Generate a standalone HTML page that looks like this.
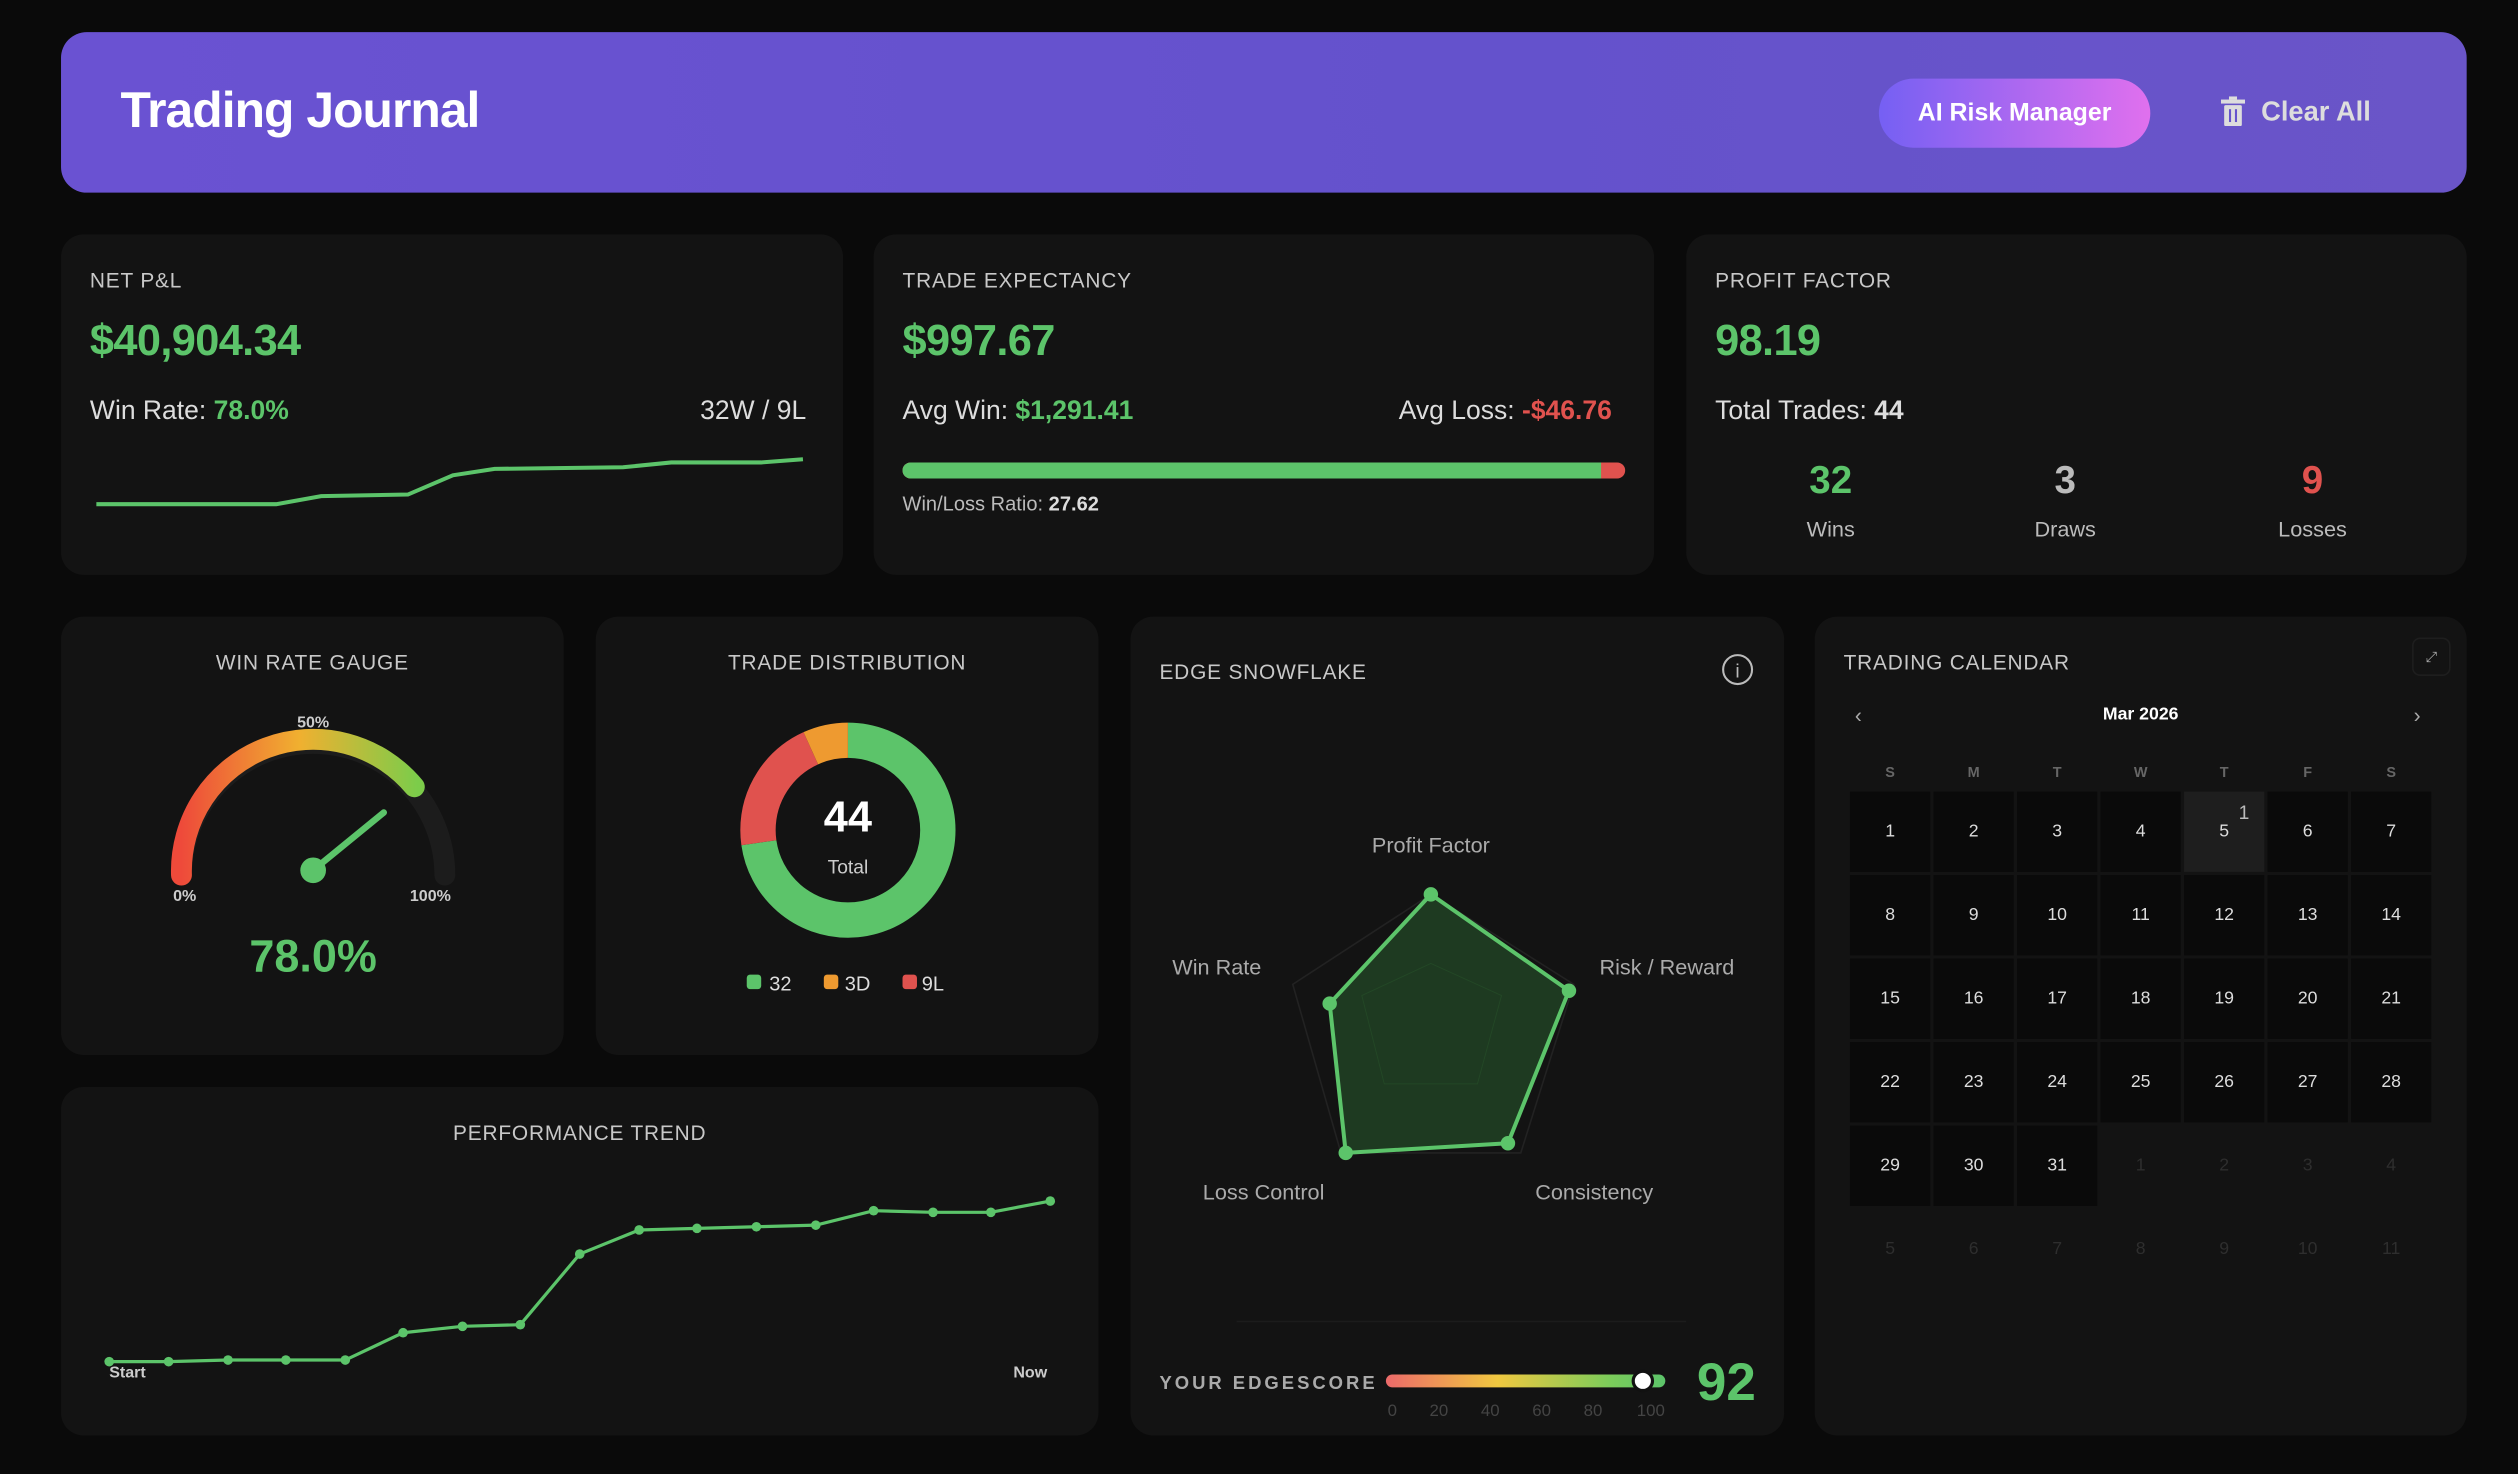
<!DOCTYPE html>
<html><head><meta charset="utf-8"><style>
*{margin:0;padding:0;box-sizing:border-box}
html,body{width:2518px;height:1474px;background:#0a0a0a;overflow:hidden}
#w{position:absolute;left:0;top:0;width:1568px;height:918px;transform:scale(1.6059,1.6057);transform-origin:0 0;font-family:"Liberation Sans",sans-serif;color:#ddd}
.a{position:absolute}
.card{position:absolute;background:#131313;border-radius:14px}
.lab{position:absolute;font-size:13px;letter-spacing:.5px;color:#c8c8c8}
.g{color:#5cc46a}.r{color:#e0524e}
</style></head><body><div id="w">
<div class="a" style="left:38px;top:20px;width:1498px;height:100px;border-radius:16px;background:linear-gradient(90deg,#6a52d2,#6452cc 60%,#6a55c8)"></div>
<div class="a" style="left:75px;top:51px;font-size:31px;font-weight:bold;color:#fff;letter-spacing:-0.6px">Trading Journal</div>
<div class="a" style="left:1170px;top:49px;width:169px;height:43px;border-radius:22px;background:linear-gradient(90deg,#7560f3,#e070ee);color:#fff;font-weight:bold;font-size:15.5px;line-height:43px;text-align:center">AI Risk Manager</div>
<div class="a" style="left:1383px;top:60px;width:14px;height:18px;color:#ddd"><svg width="15" height="19"><rect x="0" y="2" width="15" height="2.5" fill="#ddd"/><rect x="5" y="0" width="5" height="2" fill="#ddd"/><rect x="2" y="5.5" width="11" height="13" rx="1" fill="#ddd"/><rect x="5" y="8" width="1.3" height="8" fill="#6553cd"/><rect x="8.7" y="8" width="1.3" height="8" fill="#6553cd"/></svg></div>
<div class="a" style="left:1408px;top:60px;font-size:17px;font-weight:bold;color:#ddd">Clear All</div>

<div class="card" style="left:38px;top:146px;width:487px;height:212px"></div>
<div class="card" style="left:544px;top:146px;width:486px;height:212px"></div>
<div class="card" style="left:1050px;top:146px;width:486px;height:212px"></div>
<div class="lab" style="left:56px;top:167px">NET P&amp;L</div>
<div class="a g" style="left:56px;top:197px;font-size:27px;font-weight:bold;letter-spacing:-0.4px">$40,904.34</div>
<div class="a" style="left:56px;top:247px;font-size:16.5px">Win Rate: <b class="g">78.0%</b></div>
<div class="a" style="left:436px;top:247px;font-size:16.5px">32W / 9L</div>
<svg class="a" style="left:0;top:0" width="1568" height="918"><polyline fill="none" stroke="#5cc46a" stroke-width="2.5" points="60,314 172,314 200,309 254,308 282,296 308,292 388,291 418,288 474,288 500,286"/></svg>
<div class="lab" style="left:562px;top:167px">TRADE EXPECTANCY</div>
<div class="a g" style="left:562px;top:197px;font-size:27px;font-weight:bold;letter-spacing:-0.4px">$997.67</div>
<div class="a" style="left:562px;top:247px;font-size:16.5px">Avg Win: <b class="g">$1,291.41</b></div>
<div class="a" style="left:871px;top:247px;font-size:16.5px">Avg Loss: <b class="r">-$46.76</b></div>
<div class="a" style="left:562px;top:288px;width:450px;height:10px;border-radius:5px;background:#e0524e"><div style="width:435px;height:10px;border-radius:5px 0 0 5px;background:#5cc46a"></div></div>
<div class="a" style="left:562px;top:307px;font-size:12.5px;color:#bbb">Win/Loss Ratio: <b style="color:#ddd">27.62</b></div>
<div class="lab" style="left:1068px;top:167px">PROFIT FACTOR</div>
<div class="a g" style="left:1068px;top:197px;font-size:27px;font-weight:bold;letter-spacing:-0.4px">98.19</div>
<div class="a" style="left:1068px;top:247px;font-size:16.5px">Total Trades: <b>44</b></div>
<div class="a g" style="left:1100px;top:286px;width:80px;text-align:center;font-size:24px;font-weight:bold">32</div>
<div class="a" style="left:1100px;top:322px;width:80px;text-align:center;font-size:13.5px;color:#bbb">Wins</div>
<div class="a" style="left:1246px;top:286px;width:80px;text-align:center;font-size:24px;font-weight:bold;color:#bbb">3</div>
<div class="a" style="left:1246px;top:322px;width:80px;text-align:center;font-size:13.5px;color:#bbb">Draws</div>
<div class="a r" style="left:1400px;top:286px;width:80px;text-align:center;font-size:24px;font-weight:bold">9</div>
<div class="a" style="left:1400px;top:322px;width:80px;text-align:center;font-size:13.5px;color:#bbb">Losses</div>

<div class="card" style="left:38px;top:384px;width:313px;height:273px"></div>
<div class="card" style="left:371px;top:384px;width:313px;height:273px"></div>
<div class="card" style="left:704px;top:384px;width:407px;height:510px"></div>
<div class="card" style="left:1130px;top:384px;width:406px;height:510px"></div>
<div class="card" style="left:38px;top:677px;width:646px;height:217px"></div>

<div class="lab" style="left:38px;top:405px;width:313px;text-align:center">WIN RATE GAUGE</div>
<svg class="a" style="left:0;top:0" width="1568" height="918">
<defs><linearGradient id="gg" x1="113" y1="0" x2="260" y2="0" gradientUnits="userSpaceOnUse"><stop offset="0" stop-color="#ee4a3a"/><stop offset=".5" stop-color="#f0b030"/><stop offset="1" stop-color="#7ccc4a"/></linearGradient>
<linearGradient id="eg" x1="0" x2="1"><stop offset="0" stop-color="#ec6a6a"/><stop offset=".4" stop-color="#f0c840"/><stop offset=".8" stop-color="#7ccc5a"/><stop offset="1" stop-color="#5cc46a"/></linearGradient></defs>
<path d="M113,545 A82,82 0 0 1 277,545" fill="none" stroke="#1c1c1c" stroke-width="13" stroke-linecap="round"/>
<path d="M113,545 A82,82 0 0 1 258,490" fill="none" stroke="url(#gg)" stroke-width="13" stroke-linecap="round"/>
<line x1="195" y1="542" x2="239" y2="506" stroke="#5cc46a" stroke-width="4" stroke-linecap="round"/>
<circle cx="195" cy="542" r="8" fill="#5cc46a"/>
<text x="195" y="453" fill="#ccc" font-size="10" font-weight="bold" text-anchor="middle">50%</text>
<text x="115" y="561" fill="#ccc" font-size="10" font-weight="bold" text-anchor="middle">0%</text>
<text x="268" y="561" fill="#ccc" font-size="10" font-weight="bold" text-anchor="middle">100%</text>
<text x="195" y="605" fill="#5cc46a" font-size="28" font-weight="bold" text-anchor="middle">78.0%</text>

<g transform="rotate(-90 528 517)" fill="none" stroke-width="22">
<circle cx="528" cy="517" r="56" stroke="#5cc46a" stroke-dasharray="255.9 351.9"/>
<circle cx="528" cy="517" r="56" stroke="#e0524e" stroke-dasharray="72 351.9" stroke-dashoffset="-255.9"/>
<circle cx="528" cy="517" r="56" stroke="#ee9a30" stroke-dasharray="24 351.9" stroke-dashoffset="-327.9"/>
</g>
<text x="528" y="518" fill="#fff" font-size="27" font-weight="bold" text-anchor="middle">44</text>
<text x="528" y="544" fill="#ccc" font-size="12" text-anchor="middle">Total</text>
<rect x="465" y="607" width="9" height="9" rx="2" fill="#5cc46a"/><text x="479" y="617" fill="#ddd" font-size="12.5">32</text>
<rect x="513" y="607" width="9" height="9" rx="2" fill="#ee9a30"/><text x="526" y="617" fill="#ddd" font-size="12.5">3D</text>
<rect x="562" y="607" width="9" height="9" rx="2" fill="#e0524e"/><text x="574" y="617" fill="#ddd" font-size="12.5">9L</text>

<polyline fill="none" stroke="#5cc46a" stroke-width="2" points="68,848 105,848 142,847 178,847 215,847 251,830 288,826 324,825 361,781 398,766 434,765 471,764 508,763 544,754 581,755 617,755 654,748"/>
<g fill="#5cc46a"><circle cx="68" cy="848" r="3"/><circle cx="105" cy="848" r="3"/><circle cx="142" cy="847" r="3"/><circle cx="178" cy="847" r="3"/><circle cx="215" cy="847" r="3"/><circle cx="251" cy="830" r="3"/><circle cx="288" cy="826" r="3"/><circle cx="324" cy="825" r="3"/><circle cx="361" cy="781" r="3"/><circle cx="398" cy="766" r="3"/><circle cx="434" cy="765" r="3"/><circle cx="471" cy="764" r="3"/><circle cx="508" cy="763" r="3"/><circle cx="544" cy="754" r="3"/><circle cx="581" cy="755" r="3"/><circle cx="617" cy="755" r="3"/><circle cx="654" cy="748" r="3"/></g>
<text x="68" y="858" fill="#ccc" font-size="10" font-weight="bold">Start</text>
<text x="631" y="858" fill="#ccc" font-size="10" font-weight="bold">Now</text>

<polygon points="891,557 980,613 947,718 835,718 805,613" fill="none" stroke="#222"/>
<polygon points="891,600 935,620 920,675 862,675 848,620" fill="none" stroke="#1a261a" stroke-width=".6"/>
<polygon points="891,557 977,617 939,712 838,718 828,625" fill="rgba(55,150,65,.3)" stroke="#5cc46a" stroke-width="2.5" stroke-linejoin="round"/>
<g fill="#5cc46a"><circle cx="891" cy="557" r="4.5"/><circle cx="977" cy="617" r="4.5"/><circle cx="939" cy="712" r="4.5"/><circle cx="838" cy="718" r="4.5"/><circle cx="828" cy="625" r="4.5"/></g>
<g fill="#aaa" font-size="13.5"><text x="891" y="531" text-anchor="middle">Profit Factor</text><text x="996" y="607">Risk / Reward</text><text x="730" y="607">Win Rate</text><text x="749" y="747">Loss Control</text><text x="956" y="747">Consistency</text></g>
<circle cx="1082" cy="417" r="9" fill="none" stroke="#bbb" stroke-width="1.3"/><text x="1082" y="422" fill="#bbb" font-size="12" text-anchor="middle">i</text>
<line x1="770" y1="823" x2="1050" y2="823" stroke="#1c1c1c"/>
<text x="722" y="865" fill="#aaa" font-size="11.5" font-weight="bold" letter-spacing="2" textLength="136">YOUR EDGESCORE</text>
<rect x="863" y="856" width="174" height="8" rx="4" fill="url(#eg)"/>
<circle cx="1023" cy="860" r="6" fill="#fff" stroke="#111" stroke-width="2"/>
<g fill="#444" font-size="10.5" text-anchor="middle"><text x="867" y="882">0</text><text x="896" y="882">20</text><text x="928" y="882">40</text><text x="960" y="882">60</text><text x="992" y="882">80</text><text x="1028" y="882">100</text></g>
<text x="1075" y="872" fill="#5cc46a" font-size="33" font-weight="bold" text-anchor="middle">92</text>
</svg>
<div class="lab" style="left:371px;top:405px;width:313px;text-align:center">TRADE DISTRIBUTION</div>
<div class="lab" style="left:38px;top:698px;width:646px;text-align:center">PERFORMANCE TREND</div>
<div class="lab" style="left:722px;top:411px">EDGE SNOWFLAKE</div>

<div class="lab" style="left:1148px;top:405px">TRADING CALENDAR</div>
<div class="a" style="left:1502px;top:397px;width:24px;height:24px;border:1px solid #1e1e1e;border-radius:5px;font-size:9px;color:#aaa;text-align:center;line-height:22px">⤢</div>
<div class="a" style="left:1155px;top:438px;font-size:13px;color:#aaa">‹</div>
<div class="a" style="left:1503px;top:438px;font-size:13px;color:#aaa">›</div>
<div class="a" style="left:1283px;top:439px;width:100px;text-align:center;font-size:11px;font-weight:bold;color:#fff">Mar 2026</div>
<div class="a" id="cal" style="left:1152px;top:476px;width:362px"></div>
<script>
var c=document.getElementById('cal'),h='',d='SMTWTFS';
for(var i=0;i<7;i++)h+='<div class="a" style="left:'+(i*52)+'px;top:0;width:50px;text-align:center;font-size:9px;font-weight:bold;color:#666">'+d[i]+'</div>';
for(var k=0;k<42;k++){var r=Math.floor(k/7),col=k%7,n=k+1,cur=n<=31;if(!cur)n=n-31;
var bg=cur?(k==4?'#1e1e1e':'#0a0a0a'):'transparent';
h+='<div class="a" style="left:'+(col*52)+'px;top:'+(17+r*52)+'px;width:50px;height:50px;background:'+bg+';text-align:center;line-height:50px;font-size:11px;color:'+(cur?'#ddd':'#2e2e2e')+'">'+n+(k==4?'<span style="position:absolute;left:34px;top:-12px;font-size:12px;color:#bbb">1</span>':'')+'</div>';}
c.innerHTML=h;
</script>
</div></body></html>
